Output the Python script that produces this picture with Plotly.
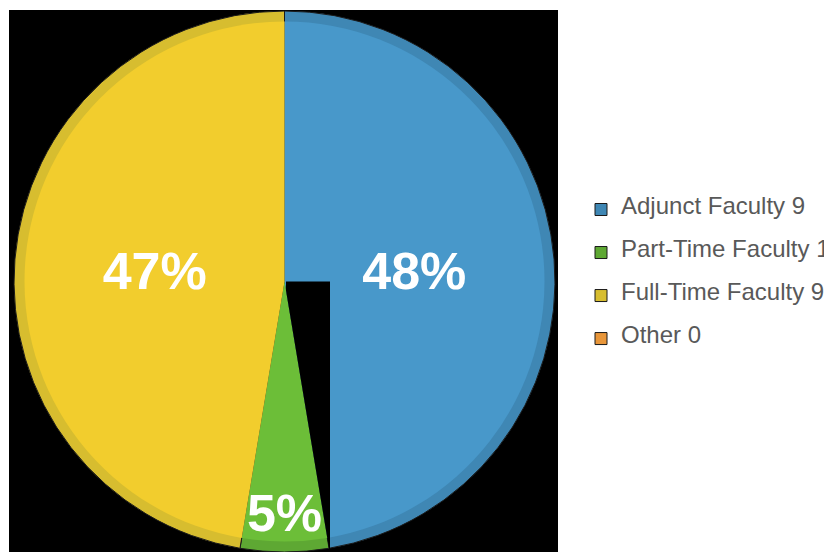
import plotly.graph_objects as go

# ---- data ----
categories = ["Adjunct Faculty", "Part-Time Faculty", "Full-Time Faculty", "Other"]
counts = [9, 1, 9, 0]
pct_labels = ["48%", "5%", "47%", "0%"]

fill_colors = ["#4898CA", "#6CBE38", "#F2CD2D", "#ED9A3A"]
band_colors = ["#3F87B4", "#5EA833", "#D7BD2F", "#E8963A"]

legend_labels = [
    " <br><span style='font-size:24px'>%s %d</span><br> " % (c, v)
    for c, v in zip(categories, counts)
]
# zero-value slices are not labelled on the pie
slice_text = [t if v > 0 else "" for t, v in zip(pct_labels, counts)]

W, H = 832, 552
OFF = 8           # page body margin
L, T = 6, 3
S = 541           # plot square size
R = W - L - S
B = H - T - S

def px(x):   # page pixel -> paper x
    return (x - OFF - L) / S

def py(y):   # page pixel -> paper y
    return (T + S - (y - OFF)) / S

fig = go.Figure()

# outer (darker band) pie
fig.add_trace(go.Pie(
    labels=legend_labels,
    values=counts,
    sort=False,
    direction="clockwise",
    rotation=0,
    marker=dict(colors=band_colors, line=dict(color="#1a1a1a", width=1)),
    textinfo="none",
    hoverinfo="skip",
    showlegend=True,
    domain=dict(x=[0, 1], y=[0, 1]),
))

# inner (lighter fill) pie with labels
inset = 10.5 / S
fig.add_trace(go.Pie(
    labels=legend_labels,
    values=counts,
    text=slice_text,
    sort=False,
    direction="clockwise",
    rotation=0,
    marker=dict(colors=fill_colors, line=dict(width=0)),
    textinfo="text",
    textposition="inside",
    insidetextorientation="horizontal",
    textfont=dict(family="Arial", size=52, color="white", weight="bold"),
    hoverinfo="skip",
    showlegend=False,
    domain=dict(x=[inset, 1 - inset], y=[inset, 1 - inset]),
))

fig.update_layout(
    width=W, height=H,
    margin=dict(l=L, r=R, t=T, b=B, pad=0),
    paper_bgcolor="white",
    uniformtext=dict(mode="show", minsize=52),
    showlegend=True,
    legend=dict(
        x=px(581), xanchor="left",
        y=py(183), yanchor="top",
        font=dict(family="Arial", size=10.26, color="#595959"),
        bgcolor="rgba(0,0,0,0)",
        valign="middle",
        traceorder="normal",
    ),
    shapes=[
        dict(type="rect", xref="paper", yref="paper",
             x0=px(9), x1=px(558), y0=py(552), y1=py(10),
             fillcolor="black", line=dict(width=0), layer="below"),
        dict(type="path", xref="paper", yref="paper", layer="above",
             path="M %f,%f L %f,%f L %f,%f L %f,%f L %f,%f Z" % (
                 px(286), py(281.5), px(330), py(281.5), px(330), py(552),
                 px(329.6), py(552), px(286), py(290.5)),
             fillcolor="black", line=dict(width=0)),
    ],
)

fig.write_html("out.html")
